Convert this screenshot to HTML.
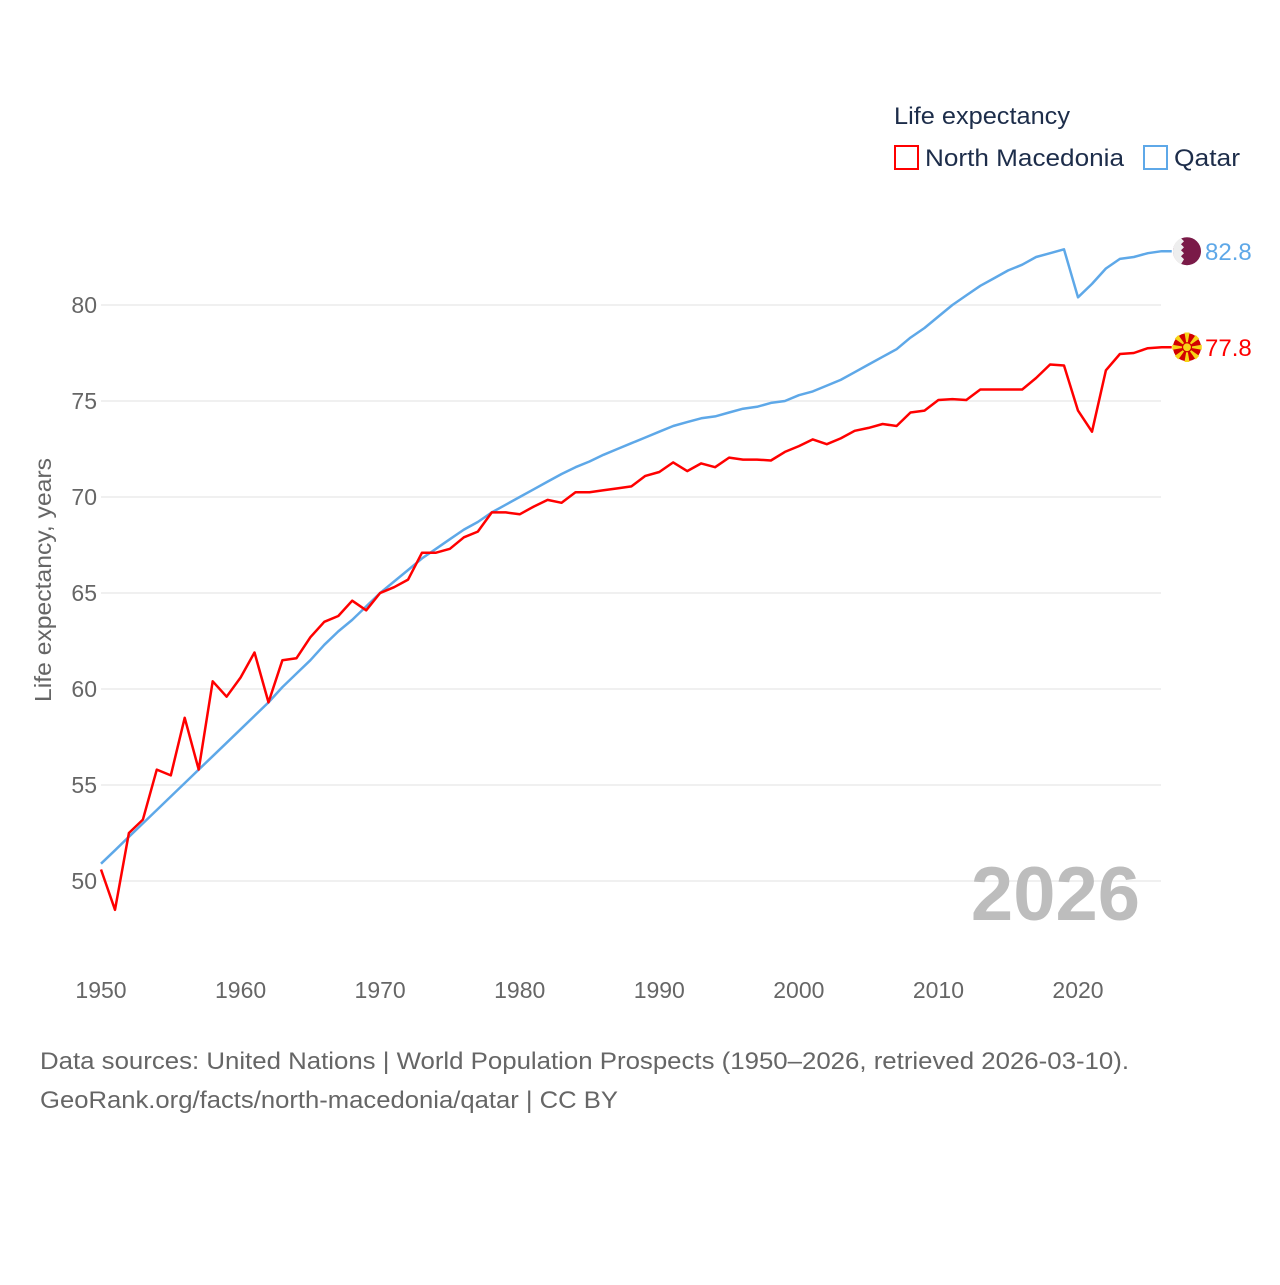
<!DOCTYPE html>
<html><head><meta charset="utf-8"><style>
body{margin:0;background:#fff;}
svg text{font-family:"Liberation Sans",sans-serif;}
</style></head><body>
<svg id="chart" width="1280" height="1280" viewBox="0 0 1280 1280" xmlns="http://www.w3.org/2000/svg">
<g id="grid"></g>
<g id="yticks"></g>
<g id="xticks"></g>
<text transform="translate(51,580) rotate(-90)" text-anchor="middle" font-size="23" fill="#666" textLength="244" lengthAdjust="spacingAndGlyphs">Life expectancy, years</text>
<text x="1140" y="920" text-anchor="end" font-size="76" font-weight="bold" fill="#bdbdbd">2026</text>
<g id="series"></g>
<g>
<text x="894" y="124" font-size="24" fill="#1d2d4a" textLength="176" lengthAdjust="spacingAndGlyphs">Life expectancy</text>
<g><rect x="895" y="146" width="23" height="23" fill="none" stroke="#ff0000" stroke-width="2"/><text x="925" y="166" font-size="24" fill="#1d2d4a" textLength="199" lengthAdjust="spacingAndGlyphs">North Macedonia</text></g>
<g><rect x="1144" y="146" width="23" height="23" fill="none" stroke="#5ea8e8" stroke-width="2"/><text x="1174" y="166" font-size="24" fill="#1d2d4a" textLength="66" lengthAdjust="spacingAndGlyphs">Qatar</text></g>
</g>
<g id="flags"></g>
<text x="40" y="1069" font-size="24" fill="#666" textLength="1089" lengthAdjust="spacingAndGlyphs">Data sources: United Nations | World Population Prospects (1950–2026, retrieved 2026-03-10).</text>
<text x="40" y="1108" font-size="24" fill="#666" textLength="578" lengthAdjust="spacingAndGlyphs">GeoRank.org/facts/north-macedonia/qatar | CC BY</text>
</svg>
<script>
const years = [];
for (let y = 1950; y <= 2026; y++) years.push(y);
const macedonia = [50.6,48.5,52.5,53.2,55.8,55.5,58.5,55.8,60.4,59.6,60.6,61.9,59.3,61.5,61.6,62.7,63.5,63.8,64.6,64.1,65.0,65.3,65.7,67.1,67.1,67.3,67.9,68.2,69.2,69.2,69.1,69.5,69.85,69.7,70.25,70.25,70.35,70.45,70.55,71.1,71.3,71.8,71.35,71.75,71.55,72.05,71.95,71.95,71.9,72.35,72.65,73.0,72.75,73.05,73.45,73.6,73.8,73.7,74.4,74.5,75.05,75.1,75.05,75.6,75.6,75.6,75.6,76.2,76.9,76.85,74.5,73.4,76.6,77.45,77.5,77.75,77.8];
const qatar = [50.9,51.6,52.3,53.0,53.7,54.4,55.1,55.8,56.5,57.2,57.9,58.6,59.3,60.1,60.8,61.5,62.3,63.0,63.6,64.3,65.0,65.6,66.2,66.8,67.3,67.8,68.3,68.7,69.2,69.6,70.0,70.4,70.8,71.2,71.55,71.85,72.2,72.5,72.8,73.1,73.4,73.7,73.9,74.1,74.2,74.4,74.6,74.7,74.9,75.0,75.3,75.5,75.8,76.1,76.5,76.9,77.3,77.7,78.3,78.8,79.4,80.0,80.5,81.0,81.4,81.8,82.1,82.5,82.7,82.9,80.4,81.1,81.9,82.4,82.5,82.7,82.8];
const yTicks = [50,55,60,65,70,75,80];
const xTicks = [1950,1960,1970,1980,1990,2000,2010,2020];
const NS = "http://www.w3.org/2000/svg";
function xs(v){return 101 + (v-1950)*(1078-101)/70;}
function ys(v){return 305 + (80-v)*19.2;}
function mk(tag, attrs, parent){const e=document.createElementNS(NS,tag);for(const k in attrs)e.setAttribute(k,attrs[k]);parent.appendChild(e);return e;}
const grid=document.getElementById('grid'), yt=document.getElementById('yticks'), xt=document.getElementById('xticks'), ser=document.getElementById('series'), fl=document.getElementById('flags');
yTicks.forEach(t=>{
  const l=mk('line',{x1:101,x2:1161,y1:ys(t),y2:ys(t),stroke:'#ebebeb','stroke-width':1.5},grid);
  
  
  const tx=mk('text',{x:97,y:ys(t)+8,'text-anchor':'end','font-size':23,fill:'#666'},yt);
  tx.textContent=t;
  
  
});
xTicks.forEach(t=>{
  const tx=mk('text',{x:xs(t),y:998,'text-anchor':'middle','font-size':23,fill:'#666'},xt);
  tx.textContent=t;
  
  
});
function line(data,color,name){
  const d=data.map((v,i)=>(i?'L':'M')+xs(years[i]).toFixed(1)+','+ys(v).toFixed(1)).join(' ')+' L'+(xs(2026)+10)+','+ys(data[data.length-1]).toFixed(1);
  const p=mk('path',{d:d,fill:'none',stroke:color,'stroke-width':2.5,'stroke-linejoin':'round'},ser);
  
  
}
line(qatar,'#5ea8e8','qatar-line');
line(macedonia,'#ff0000','north-macedonia-line');
const qy=ys(qatar[qatar.length-1]), my=ys(macedonia[macedonia.length-1]);
const qg=mk('g',{},fl);


mk('circle',{cx:1187,cy:qy,r:14,fill:'#7a1a48'},qg);
mk('path',{d:`M1173,${qy} A14,14 0 0 1 1181,${qy-13} L1184,${qy-10} L1181,${qy-7} L1184,${qy-4} L1181,${qy-1} L1184,${qy+2} L1181,${qy+5} L1184,${qy+8} L1181,${qy+13} A14,14 0 0 1 1173,${qy}Z`,fill:'#eee'},qg);
const qt=mk('text',{x:1205,y:qy+9,'font-size':24,fill:'#5ea8e8'},fl);
qt.textContent=qatar[qatar.length-1].toFixed(1);


const mg=mk('g',{},fl);


mk('circle',{cx:1187,cy:my,r:14,fill:'#d20000'},mg);
for(let i=0;i<8;i++){const a=i*Math.PI/4;const a1=a-0.17,a2=a+0.17;
  mk('path',{d:`M1187,${my} L${1187+15*Math.cos(a1)},${my+15*Math.sin(a1)} L${1187+15*Math.cos(a2)},${my+15*Math.sin(a2)}Z`,fill:'#f7d417'},mg);}
mk('circle',{cx:1187,cy:my,r:4.5,fill:'#f7d417',stroke:'#d20000','stroke-width':1.2},mg);
const mt=mk('text',{x:1205,y:my+9,'font-size':24,fill:'#ff0000'},fl);
mt.textContent=macedonia[macedonia.length-1].toFixed(1);


</script>
</body></html>
